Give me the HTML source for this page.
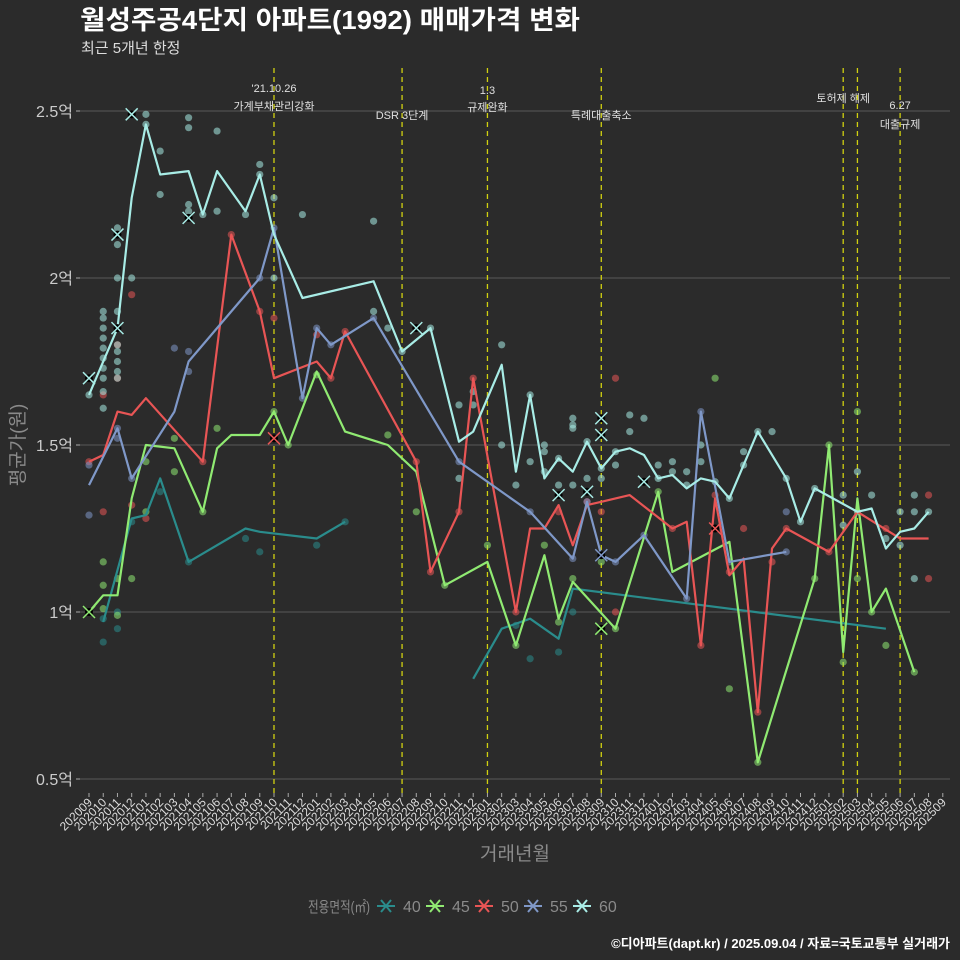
<!DOCTYPE html>
<html><head><meta charset="utf-8">
<style>
html,body{margin:0;padding:0;background:#2b2b2b;}
svg{display:block;}
text{font-family:"Liberation Sans","Noto Sans CJK KR",sans-serif;}
</style></head>
<body>
<svg id="chart" width="960" height="960" viewBox="0 0 960 960" xmlns="http://www.w3.org/2000/svg">
<rect x="0" y="0" width="960" height="960" fill="#2b2b2b"/>
<text x="80" y="29" fill="#ffffff" font-size="26" font-weight="bold" textLength="500" lengthAdjust="spacingAndGlyphs">월성주공4단지 아파트(1992) 매매가격 변화</text>
<text x="81" y="53" fill="#dddddd" font-size="15">최근 5개년 한정</text>
<g id="grid"></g>
<g id="events"></g>
<g id="scatter"></g>
<g id="lines"></g>
<g id="marks"></g>
<g id="xaxis"></g>
<g id="yaxis"></g>
<text x="515" y="860" fill="#8a8a8a" font-size="19" text-anchor="middle">거래년월</text>
<text transform="translate(24,445) rotate(-90)" fill="#8a8a8a" font-size="19" text-anchor="middle">평균가(원)</text>
<g id="legend"></g>
<text x="950" y="948" fill="#ffffff" font-size="13" font-weight="bold" text-anchor="end">©디아파트(dapt.kr) / 2025.09.04 / 자료=국토교통부 실거래가</text>
</svg>
<script>
const months = [];
for (let y = 2020, m = 9; !(y === 2025 && m === 10); ) { months.push(y + String(m).padStart(2, '0')); m++; if (m > 12) { m = 1; y++; } }
const yTicks = [0.5, 1, 1.5, 2, 2.5];
const yTickLabels = ['0.5억', '1억', '1.5억', '2억', '2.5억'];
const seriesNames = ['40', '45', '50', '55', '60'];
const seriesColors = ['#2a8c8c', '#90ea72', '#e85555', '#7f98c8', '#a8ece6'];
const eventMonths = ['202110', '202207', '202301', '202309', '202502', '202503', '202506'];
const eventLabels = [["'21.10.26", '가계부채관리강화'], ['DSR 3단계'], ['1.3', '규제완화'], ['특례대출축소'], ['토허제 해제'], [], ['6.27', '대출규제']];
const eventLabelY = [[92, 110], [119], [94, 111], [119], [102], [], [109, 128]];
// line data: [monthIndex, value(억)]
const s40 = [[1,0.97],[3,1.28],[4,1.29],[5,1.40],[7,1.15],[11,1.25],[12,1.24],[16,1.22],[18,1.27],null,[27,0.80],[29,0.95],[31,0.98],[33,0.92],[34,1.07],[56,0.95]];
const s45 = [[0,1.00],[1,1.05],[2,1.05],[3,1.34],[4,1.50],[6,1.49],[8,1.30],[9,1.49],[10,1.53],[12,1.53],[13,1.60],[14,1.50],[16,1.72],[18,1.54],[21,1.50],[23,1.42],[25,1.08],[28,1.15],[30,0.90],[32,1.17],[33,0.98],[34,1.09],[37,0.95],[40,1.36],[41,1.12],[45,1.21],[47,0.55],[51,1.10],[52,1.50],[53,0.88],[54,1.34],[55,1.00],[56,1.07],[58,0.82]];
const s50 = [[0,1.45],[1,1.47],[2,1.60],[3,1.59],[4,1.64],[8,1.45],[10,2.13],[12,1.90],[13,1.70],[16,1.75],[17,1.70],[18,1.84],[23,1.45],[24,1.12],[26,1.30],[27,1.70],[30,1.00],[31,1.25],[32,1.25],[33,1.32],[34,1.20],[35,1.32],[36,1.33],[37,1.34],[38,1.35],[41,1.25],[42,1.27],[43,0.90],[44,1.34],[45,1.11],[46,1.16],[47,0.70],[48,1.19],[49,1.25],[52,1.18],[54,1.30],[57,1.22],[59,1.22]];
const s55 = [[0,1.38],[2,1.55],[3,1.40],[6,1.60],[7,1.75],[12,2.00],[13,2.15],[15,1.64],[16,1.85],[17,1.80],[20,1.88],[26,1.45],[31,1.30],[34,1.16],[35,1.33],[36,1.17],[37,1.15],[39,1.23],[42,1.04],[43,1.60],[45,1.15],[49,1.18]];
const s60 = [[0,1.65],[2,1.85],[3,2.24],[4,2.46],[5,2.31],[7,2.32],[8,2.19],[9,2.32],[11,2.20],[12,2.31],[13,2.13],[15,1.94],[20,1.99],[22,1.78],[24,1.85],[26,1.51],[27,1.54],[29,1.74],[30,1.42],[31,1.65],[32,1.40],[33,1.46],[34,1.42],[35,1.51],[36,1.43],[37,1.48],[38,1.49],[39,1.47],[40,1.40],[41,1.41],[42,1.37],[43,1.40],[44,1.39],[45,1.34],[47,1.54],[49,1.40],[50,1.27],[51,1.37],[54,1.30],[55,1.31],[56,1.19],[57,1.24],[58,1.25],[59,1.30]];
// scatter data
const p40 = [[1,0.91],[1,0.98],[2,1.0],[2,0.95],[3,1.27],[5,1.36],[7,1.15],[11,1.22],[12,1.18],[16,1.20],[18,1.27],[31,0.86],[33,0.88],[30,0.96],[34,1.00]];
const p45 = [[1,1.08],[1,1.15],[1,1.01],[2,0.99],[2,1.10],[3,1.10],[4,1.45],[4,1.30],[6,1.52],[6,1.42],[8,1.30],[9,1.55],[13,1.60],[13,1.52],[14,1.50],[16,1.71],[21,1.53],[23,1.30],[25,1.08],[28,1.20],[30,0.90],[32,1.20],[33,0.97],[34,1.10],[36,1.15],[37,0.95],[40,1.36],[44,1.70],[45,0.77],[47,0.55],[51,1.10],[52,1.50],[53,0.85],[54,1.60],[54,1.10],[55,1.00],[56,0.90],[58,0.82]];
const p50 = [[0,1.45],[1,1.65],[1,1.30],[2,1.70],[2,1.80],[3,1.32],[3,1.95],[4,1.28],[8,1.45],[10,2.13],[12,1.90],[13,1.88],[16,1.83],[17,1.70],[18,1.84],[23,1.45],[24,1.12],[26,1.30],[27,1.70],[30,1.00],[33,1.30],[35,1.33],[36,1.30],[37,1.70],[37,1.00],[41,1.25],[43,0.90],[44,1.35],[45,1.12],[46,1.25],[47,0.70],[48,1.15],[49,1.25],[52,1.18],[56,1.25],[59,1.35],[59,1.10]];
const p55 = [[0,1.29],[0,1.44],[2,1.52],[2,1.55],[3,1.40],[6,1.79],[7,1.78],[7,1.72],[12,2.00],[13,2.15],[15,1.64],[16,1.85],[17,1.80],[20,1.88],[26,1.45],[31,1.30],[34,1.16],[35,1.33],[36,1.17],[37,1.15],[39,1.23],[42,1.04],[43,1.60],[45,1.15],[49,1.18],[49,1.30]];
const p60 = [[0,1.65],[1,1.90],[1,1.88],[1,1.85],[1,1.82],[1,1.79],[1,1.76],[1,1.73],[1,1.70],[1,1.66],[1,1.61],[2,2.15],[2,2.13],[2,2.10],[2,2.00],[2,1.90],[2,1.85],[2,1.80],[2,1.78],[2,1.75],[2,1.72],[2,1.70],[3,2.49],[3,2.00],[4,2.49],[4,2.46],[5,2.38],[5,2.25],[7,2.48],[7,2.45],[7,2.22],[7,2.20],[8,2.19],[9,2.44],[9,2.20],[11,2.19],[12,2.34],[12,2.31],[13,2.24],[13,2.00],[15,2.19],[20,2.17],[20,1.90],[21,1.85],[22,1.78],[24,1.85],[26,1.62],[26,1.40],[27,1.66],[27,1.62],[29,1.80],[29,1.50],[30,1.38],[31,1.65],[31,1.45],[32,1.50],[32,1.48],[32,1.42],[33,1.46],[33,1.38],[34,1.58],[34,1.56],[34,1.55],[34,1.38],[35,1.51],[35,1.40],[36,1.43],[36,1.40],[37,1.48],[37,1.44],[38,1.59],[38,1.54],[39,1.58],[40,1.44],[40,1.40],[41,1.45],[41,1.42],[42,1.42],[42,1.38],[43,1.50],[43,1.45],[44,1.39],[45,1.34],[46,1.48],[46,1.44],[47,1.54],[48,1.54],[49,1.40],[50,1.27],[51,1.37],[53,1.35],[53,1.26],[54,1.42],[54,1.30],[55,1.35],[56,1.22],[57,1.30],[57,1.20],[58,1.35],[58,1.30],[58,1.10],[59,1.30]];
// cross markers: [seriesIndex, monthIndex, value]
const crosses = [[4,0,1.70],[4,2,2.13],[4,2,1.85],[4,3,2.49],[4,7,2.18],[4,23,1.85],[4,33,1.35],[4,35,1.36],[4,36,1.58],[4,36,1.53],[4,39,1.39],[1,0,1.00],[1,36,0.95],[2,13,1.52],[2,44,1.25],[3,36,1.17]];

const NS = 'http://www.w3.org/2000/svg';
const X0 = 89, DX = 14.23, Y1 = 612, PY = 334;
function xScale(i) { return X0 + DX * i; }
function yScale(v) { return Y1 - (v - 1) * PY; }
function mk(tag, attrs, parent) { const e = document.createElementNS(NS, tag); for (const k in attrs) e.setAttribute(k, attrs[k]); parent.appendChild(e); return e; }

const grid = document.getElementById('grid');
yTicks.forEach((t, k) => {
  const gl = mk('line', {x1: 80, x2: 950, y1: yScale(t), y2: yScale(t), stroke: '#5a5a5a', 'stroke-width': 1}, grid);
  
  
});
const ya = document.getElementById('yaxis');
yTicks.forEach((t, k) => {
  const tk = mk('line', {x1: 76, x2: 80, y1: yScale(t), y2: yScale(t), stroke: '#aaa'}, ya);
  
  
  const tx = mk('text', {x: 73, y: yScale(t) + 6, fill: '#cccccc', 'font-size': 16, 'text-anchor': 'end'}, ya);
  tx.textContent = yTickLabels[k];
  
  
});
const xa = document.getElementById('xaxis');
months.forEach((m, i) => {
  const x = xScale(i);
  const tk = mk('line', {x1: x, x2: x, y1: 793, y2: 797, stroke: '#aaa'}, xa);
  
  
  const tx = mk('text', {x: x + 4, y: 803, fill: '#dddddd', 'font-size': 12, 'text-anchor': 'end', transform: `rotate(-45 ${x + 4} 803)`}, xa);
  tx.textContent = m;
  
  
});
const ev = document.getElementById('events');
eventMonths.forEach((m, k) => {
  const x = xScale(months.indexOf(m));
  const l = mk('line', {x1: x, x2: x, y1: 68, y2: 793, stroke: '#d0d010', 'stroke-width': 1.3, 'stroke-dasharray': '5,4'}, ev);
  
  
  eventLabels[k].forEach((s, j) => {
    const t = mk('text', {x: x, y: eventLabelY[k][j], fill: '#e0e0e0', 'font-size': 11, 'text-anchor': 'middle'}, ev);
    t.textContent = s;
    
    
  });
});
const sc = document.getElementById('scatter');
[p40, p45, p50, p55, p60].forEach((arr, si) => {
  arr.forEach(p => {
    const c = mk('circle', {cx: xScale(p[0]), cy: yScale(p[1]), r: 3.6, fill: seriesColors[si], 'fill-opacity': 0.55}, sc);
    
    
  });
});
const ln = document.getElementById('lines');
[s40, s45, s50, s55, s60].forEach((arr, si) => {
  let d = '', start = true;
  arr.forEach(p => {
    if (!p) { start = true; return; }
    d += (start ? 'M' : 'L') + xScale(p[0]).toFixed(1) + ',' + yScale(p[1]).toFixed(1);
    start = false;
  });
  const path = mk('path', {d: d, fill: 'none', stroke: seriesColors[si], 'stroke-width': 2.2, 'stroke-linejoin': 'round'}, ln);
  
  
});
const mkg = document.getElementById('marks');
crosses.forEach(c => {
  const x = xScale(c[1]), y = yScale(c[2]), s = 6;
  const g = mk('g', {}, mkg);
  
  
  mk('circle', {cx: x, cy: y, r: 4, fill: '#000'}, g);
  mk('path', {d: `M${x - s},${y - s}L${x + s},${y + s}M${x - s},${y + s}L${x + s},${y - s}`, stroke: seriesColors[c[0]], 'stroke-width': 1.5}, g);
});
const lg = document.getElementById('legend');
const lt = mk('text', {x: 308, y: 912, fill: '#8a8a8a', 'font-size': 15, textLength: 62, lengthAdjust: 'spacingAndGlyphs'}, lg);
lt.textContent = '전용면적(㎡)';


const legX = [377, 426, 475, 524, 573];
seriesNames.forEach((n, k) => {
  const x = legX[k], y = 906;
  const g = mk('g', {}, lg);
  
  
  mk('path', {d: `M${x},${y}H${x + 18}M${x + 4},${y - 6}L${x + 14},${y + 6}M${x + 4},${y + 6}L${x + 14},${y - 6}`, stroke: seriesColors[k], 'stroke-width': 2}, g);
  const t = mk('text', {x: x + 26, y: y + 6, fill: '#8a8a8a', 'font-size': 16}, g);
  t.textContent = n;
});
</script>
</body></html>
